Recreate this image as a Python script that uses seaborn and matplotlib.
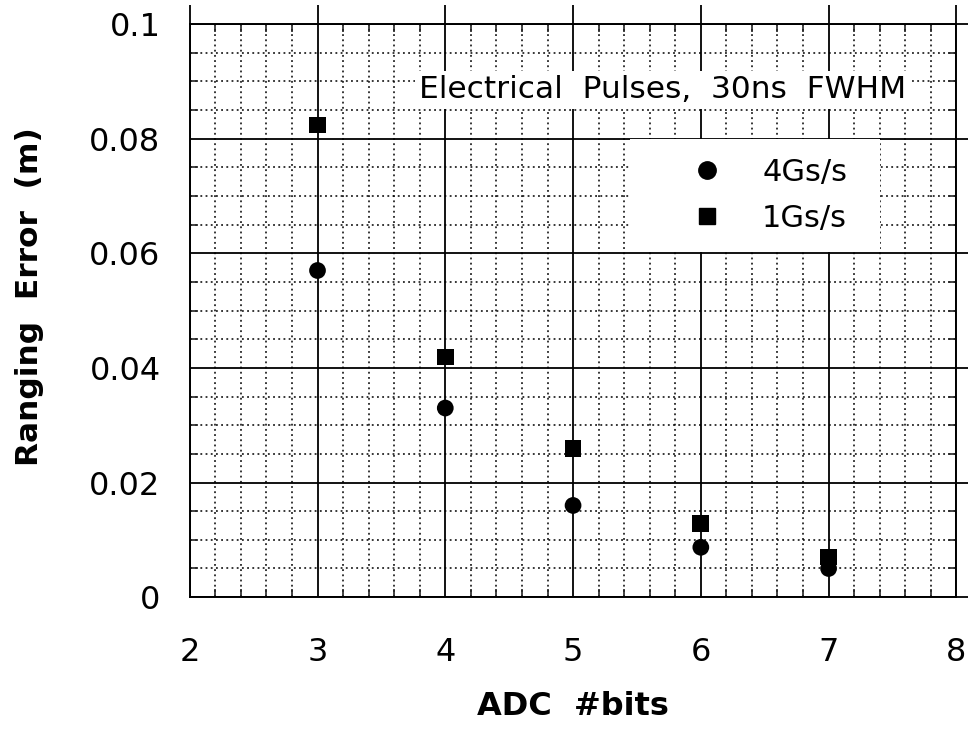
import matplotlib
matplotlib.use("Agg")
import matplotlib.pyplot as plt
from matplotlib.ticker import MultipleLocator, FixedFormatter, FixedLocator
from matplotlib.lines import Line2D
from matplotlib.patches import Rectangle
import seaborn as sns
import pandas as pd

# ADC resolution and measured ranging error per sampling rate
bits = [3, 4, 5, 6, 7]
err_4gs = [0.057, 0.033, 0.016, 0.0087, 0.005]
err_1gs = [0.0824, 0.0419, 0.026, 0.0129, 0.007]
series_names = ["4Gs/s", "1Gs/s"]
y_ticks = [0, 0.02, 0.04, 0.06, 0.08, 0.1]
y_tick_labels = ["0", "0.02", "0.04", "0.06", "0.08", "0.1"]

df = pd.DataFrame({
    "bits": bits * 2,
    "err": err_4gs + err_1gs,
    "rate": [series_names[0]] * len(bits) + [series_names[1]] * len(bits),
})

sns.set_style("white")
plt.rcParams["font.family"] = ["DejaVu Sans"]
plt.rcParams["text.color"] = "black"
plt.rcParams["axes.labelcolor"] = "black"

fig = plt.figure(figsize=(9.68, 7.30), dpi=100)
ax = fig.add_axes([0.196, 0.182, 0.792, 0.785])

sns.scatterplot(data=df, x="bits", y="err", style="rate", hue="rate",
                markers={"4Gs/s": "o", "1Gs/s": "s"},
                palette={"4Gs/s": "black", "1Gs/s": "black"},
                s=145, edgecolor="none", ax=ax, zorder=5, legend=False)

ax.set_xlim(2, 8)
ax.set_ylim(0, 0.1)
ax.xaxis.set_major_locator(MultipleLocator(1))
ax.xaxis.set_minor_locator(MultipleLocator(0.2))
ax.yaxis.set_major_locator(FixedLocator(y_ticks))
ax.yaxis.set_major_formatter(FixedFormatter(y_tick_labels))
ax.yaxis.set_minor_locator(MultipleLocator(0.005))

ax.grid(which="major", color="black", linewidth=1.3, linestyle="-")
ax.grid(which="minor", color="black", linewidth=1.1, linestyle=(0, (1.2, 2.2)))
ax.set_axisbelow(True)

for sp in ax.spines.values():
    sp.set_color("black")
    sp.set_linewidth(1.4)

ax.tick_params(which="major", direction="out", length=14, width=1.3,
               top=True, right=True, labelsize=23, pad=7, colors="black")
ax.tick_params(axis="x", which="major", pad=15)
ax.tick_params(which="minor", direction="in", length=6, width=1.2,
               top=True, right=True, bottom=True, left=True)

ax.set_xlabel("ADC  #bits", fontsize=23, fontweight="bold", labelpad=16)
ax.set_ylabel("Ranging  Error  (m)", fontsize=22.5, fontweight="bold")
ax.yaxis.set_label_coords(-0.19, 0.524)

ax.text(0.934, 0.885, "Electrical  Pulses,  30ns  FWHM", transform=ax.transAxes,
        ha="right", va="center", fontsize=22.5, zorder=6,
        bbox=dict(facecolor="white", edgecolor="none", pad=3))

# white panel behind the legend
ax.add_patch(Rectangle((0.574, 0.603), 0.326, 0.196, transform=ax.transAxes,
                       facecolor="white", edgecolor="none", zorder=4))

handles = [Line2D([], [], marker="o", color="black", linestyle="none", markersize=12.5),
           Line2D([], [], marker="s", color="black", linestyle="none", markersize=11)]
leg = ax.legend(handles, series_names, loc="upper left",
                bbox_to_anchor=(0.655, 0.766), fontsize=22, frameon=False,
                handlelength=1.0, handletextpad=1.3, labelspacing=0.55,
                borderpad=0, borderaxespad=0)
leg.set_zorder(6)

fig.savefig("out.png", dpi=100, facecolor="white")
